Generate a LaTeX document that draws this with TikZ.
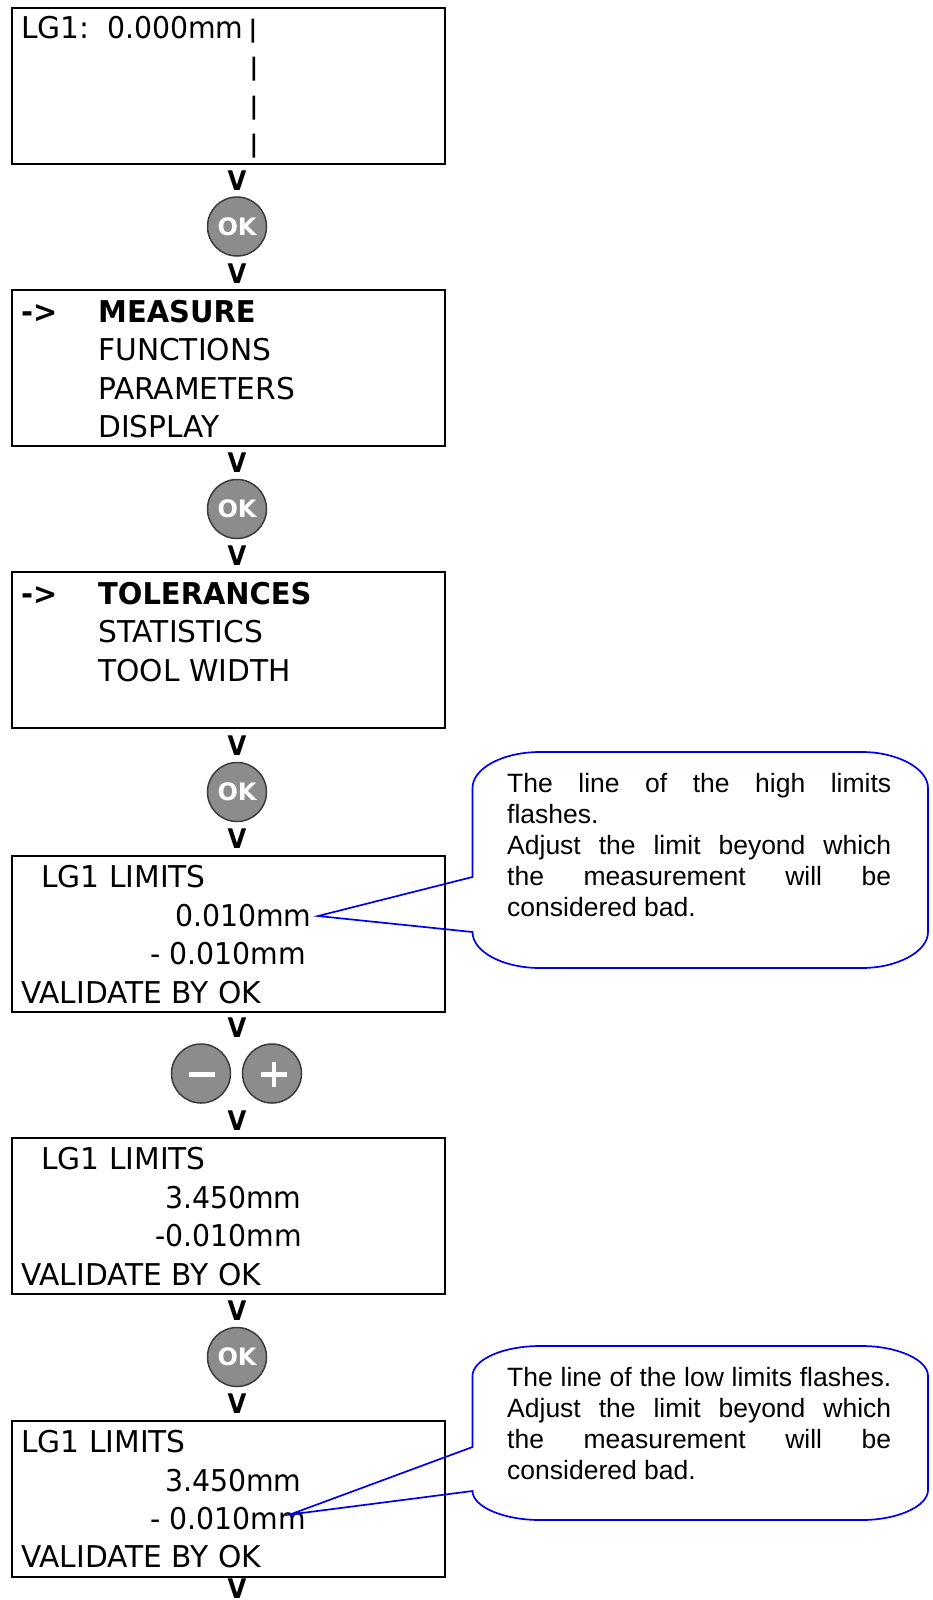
\documentclass[tikz,border=0pt]{standalone}
\usepackage{fontspec}
\setmainfont{DejaVu Sans}[FakeStretch=0.99]
\newfontfamily\numf{DejaVu Sans}[FakeStretch=0.945]
\newfontfamily\headf{DejaVu Sans}[FakeStretch=0.965]
\newfontfamily\markf{DejaVu Sans}[FakeStretch=0.9]
\newfontfamily\keyf{DejaVu Sans}
\newfontfamily\arialfont{Liberation Sans}
\definecolor{btn}{HTML}{8C8C8C}
\definecolor{btnedge}{HTML}{3C3C3C}
\definecolor{tipblue}{HTML}{0000F0}
\newcommand{\callout}[6]{% top, bottom, tail top, tail bottom, tip, corner y
  \draw[tipline] (#5) -- (472.5,#3) -- (472.5,#1+#6)
    .. controls (472.5,#1+0.45*#6) and (503,#1) .. (540,#1)
    -- (862,#1) .. controls (897,#1) and (928,#1+0.45*#6) .. (928,#1+#6)
    -- (928,#2-#6) .. controls (928,#2-0.45*#6) and (897,#2) .. (862,#2)
    -- (540,#2) .. controls (503,#2) and (472.5,#2-0.45*#6) .. (472.5,#4) -- cycle;}
\begin{document}
\begin{tikzpicture}[x=1pt,y=-1pt,
  lcd/.style={draw=black,line width=2pt,minimum width=433pt,minimum height=156pt,inner sep=0pt,anchor=north west},
  lt/.style={anchor=base west,inner sep=0pt,text=black,font=\fontsize{30}{36}\selectfont},
  ln/.style={anchor=base west,inner sep=0pt,text=black,font=\numf\fontsize{30}{36}\selectfont},
  lb/.style={anchor=base west,inner sep=0pt,text=black,font=\headf\fontsize{30}{36}\selectfont\bfseries},
  vmark/.style={anchor=base,inner sep=0pt,font=\markf\fontsize{27}{30}\selectfont\bfseries},
  bar/.style={anchor=base,inner sep=0pt,font=\fontsize{24}{30}\selectfont\bfseries},
  roundbtn/.style={circle,draw=btnedge,line width=1.5pt,fill=btn,minimum size=59pt,inner sep=0pt},
  oklabel/.style={text=white,font=\keyf\fontsize{24}{24}\selectfont\bfseries},
  tipline/.style={draw=tipblue,line width=1.7pt,line join=miter},
  calltext/.style={anchor=north west,inner sep=0pt,text width=384pt,align=justify,font=\arialfont\fontsize{26.5}{31}\selectfont},
]
\useasboundingbox (0,0) rectangle (933,1600);
\hbadness=10000 \hfuzz=5pt

% boxes
\node[lcd] (b1) at (10.7,6.7) {};
\node[lcd] (b2) at (10.7,288.7) {};
\node[lcd] (b3) at (10.7,570.7) {};
\node[lcd] (b4) at (10.7,854.7) {};
\node[lcd] (b5) at (10.7,1136.7) {};
\node[lcd] (b6) at (10.7,1419.7) {};

% box 1
\node[lt] (t11) at (21,39) {LG1:\hspace*{17.5pt}{\numf 0.000mm}};
\node[bar] (p1) at (253,38) {|};
\node[bar] (p2) at (254,76) {|};
\node[bar] (p3) at (254,114) {|};
\node[bar] (p4) at (254,153) {|};

% box 2
\node[lb] (a2) at (21,322) {->};
\node[lb] (t21) at (98,322) {MEASURE};
\node[lt] (t22) at (98,360) {FUNCTIONS};
\node[lt] (t23) at (98,399) {PARAMETERS};
\node[lt] (t24) at (98,437) {DISPLAY};

% box 3
\node[lb] (a3) at (21,604) {->};
\node[lb] (t31) at (98,604) {TOLERANCES};
\node[lt] (t32) at (98,642) {STATISTICS};
\node[lt] (t33) at (98,681) {TOOL WIDTH};

% box 4
\node[lt] (t41) at (41,887) {LG1 LIMITS};
\node[ln] (t42) at (175,926) {0.010mm};
\node[ln] (t43) at (150,964) {- 0.010mm};
\node[lt] (t44) at (21,1003) {VALIDATE BY OK};

% box 5
\node[lt] (t51) at (41,1169) {LG1 LIMITS};
\node[ln] (t52) at (165,1208) {3.450mm};
\node[ln] (t53) at (155,1246) {-0.010mm};
\node[lt] (t54) at (21,1285) {VALIDATE BY OK};

% box 6
\node[lt] (t61) at (21,1452) {LG1 LIMITS};
\node[ln] (t62) at (165,1491) {3.450mm};
\node[ln] (t63) at (150,1529) {- 0.010mm};
\node[lt] (t64) at (21,1567) {VALIDATE BY OK};

% arrows (printed V)
\node[vmark] (v1) at (237,190) {V};
\node[vmark] (v2) at (237,283) {V};
\node[vmark] (v3) at (237,472) {V};
\node[vmark] (v4) at (237,565) {V};
\node[vmark] (v5) at (237,755) {V};
\node[vmark] (v6) at (237,848) {V};
\node[vmark] (v7) at (237,1037) {V};
\node[vmark] (v8) at (237,1130) {V};
\node[vmark] (v9) at (237,1320) {V};
\node[vmark] (v10) at (237,1413) {V};
\node[vmark] (v11) at (237,1598) {V};

% buttons
\node[roundbtn,oklabel] (ok1) at (237,226.5) {OK};
\node[roundbtn,oklabel] (ok2) at (237,509) {OK};
\node[roundbtn,oklabel] (ok3) at (237,792) {OK};
\node[roundbtn,oklabel] (ok4) at (237,1357) {OK};
\node[roundbtn] (minus) at (201,1073.5) {};
\node[roundbtn] (plus) at (272,1073.5) {};
\fill[white] (189,1072) rectangle (215,1076.5);
\fill[white] (261,1072) rectangle (287,1077);
\fill[white] (271.5,1062) rectangle (276,1087);

% callouts
\coordinate (tip1) at (318,916);
\coordinate (tip2) at (290,1514.5);
\callout{752}{968}{877}{932}{tip1}{36}
\callout{1346}{1520}{1447}{1491}{tip2}{30}
\node[calltext] (c1) at (507,773.5) {The line of the high limits\linebreak flashes.\\Adjust the limit beyond which\linebreak the measurement will be\linebreak considered bad.};
\node[calltext] (c2) at (507,1367) {The line of the low limits flashes.\linebreak Adjust the limit beyond which\linebreak the measurement will be\linebreak considered bad.};
\end{tikzpicture}
\end{document}
